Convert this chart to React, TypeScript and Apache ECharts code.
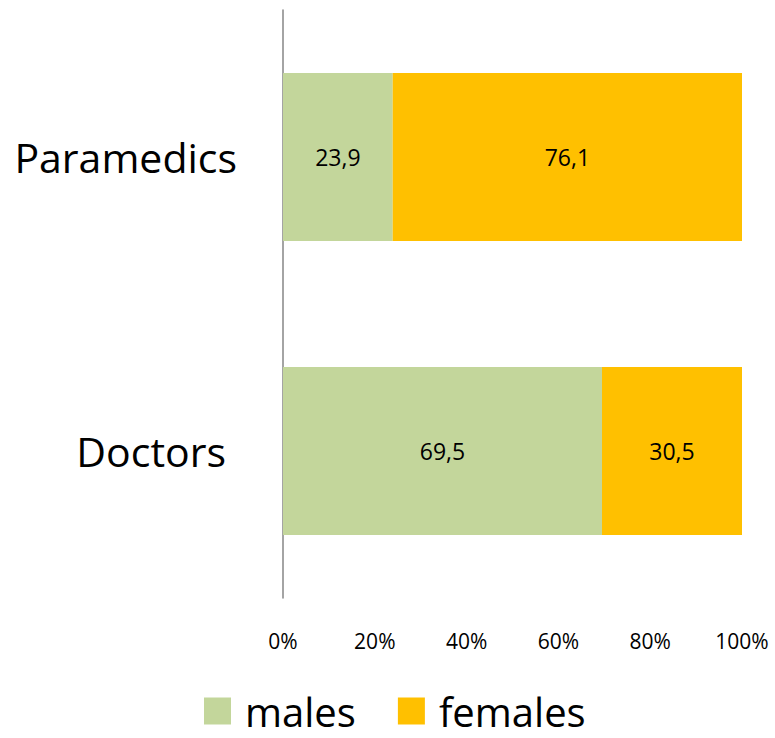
import React, { useEffect, useRef } from "react";
import * as echarts from "echarts";

const categories = ["Doctors", "Paramedics"];
const males = [69.5, 23.9];
const females = [30.5, 76.1];
const seriesNames = ["males", "females"];

const FONT = "'Open Sans', sans-serif";

export default function App() {
  const ref = useRef<HTMLDivElement>(null);

  useEffect(() => {
    if (!ref.current) return;
    const chart = echarts.init(ref.current, null, { renderer: "svg" });
    const fmt = (p: any) => String(p.value).replace(".", ",");
    const catStyle = { fontFamily: FONT, fontSize: 41, color: "#000" };
    chart.setOption({
      animation: false,
      grid: { left: 283, right: 33, top: 10, bottom: 140, containLabel: false },
      legend: {
        data: seriesNames,
        bottom: 2,
        left: 199,
        itemWidth: 27,
        itemHeight: 27,
        itemGap: 42,
        icon: "rect",
        textStyle: { fontFamily: FONT, fontSize: 40, color: "#000", padding: [0, 0, 0, 9] },
      },
      xAxis: {
        type: "value",
        min: 0,
        max: 100,
        interval: 20,
        axisLine: { show: false },
        axisTick: { show: false },
        splitLine: { show: false },
        axisLabel: {
          formatter: "{value}%",
          fontFamily: FONT,
          fontSize: 21,
          color: "#000",
          margin: 32,
        },
      },
      yAxis: {
        type: "category",
        data: categories,
        axisLine: { show: true, lineStyle: { color: "#868686", width: 1.5 } },
        axisTick: { show: false },
        axisLabel: {
          ...catStyle,
          margin: 46,
          formatter: (v: string) => (v === "Doctors" ? `{d|${v}}` : `{p|${v}}`),
          rich: {
            d: { ...catStyle, padding: [0, 11, 0, 0] },
            p: { ...catStyle },
          },
        },
      },
      series: [
        {
          name: seriesNames[0],
          type: "bar",
          stack: "total",
          data: males,
          barWidth: 168,
          itemStyle: { color: "#C3D69B" },
          label: { show: true, formatter: fmt, fontFamily: FONT, fontSize: 23, color: "#000" },
        },
        {
          name: seriesNames[1],
          type: "bar",
          stack: "total",
          data: females,
          barWidth: 168,
          itemStyle: { color: "#FFC000" },
          label: { show: true, formatter: fmt, fontFamily: FONT, fontSize: 23, color: "#000" },
        },
      ],
    });
    return () => chart.dispose();
  }, []);

  return <div ref={ref} style={{ width: 775, height: 738, position: "absolute", left: 0, top: 0 }} />;
}
